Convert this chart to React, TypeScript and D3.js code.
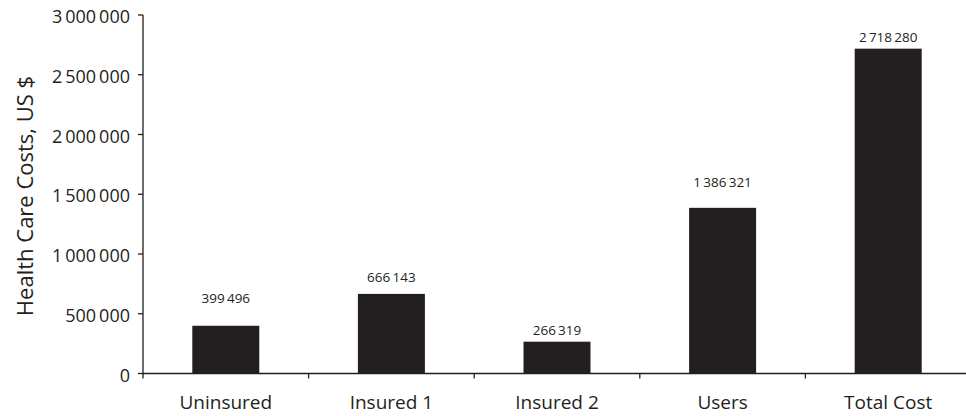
import React from "react";
import * as d3 from "d3";

const categories = ["Uninsured", "Insured 1", "Insured 2", "Users", "Total Cost"];
const costs = [399496, 666143, 266319, 1386321, 2718280];
const yTicks = [0, 500000, 1000000, 1500000, 2000000, 2500000, 3000000];

const W = 966, H = 416;
const left = 143, right = 971, top = 15, bottom = 373.5;
const FONT = "'Open Sans', 'Noto Sans', sans-serif";
const INK = "#231f20";

const fmt = (v: number) => {
  const s = String(Math.round(v));
  return s.replace(/\B(?=(\d{3})+(?!\d))/g, "\u2009");
};

export default function App() {
  const x = d3.scaleBand<string>().domain(categories).range([left, right]).paddingInner(0).paddingOuter(0);
  const y = d3.scaleLinear().domain([0, 3000000]).range([bottom, top]);
  const bw = 67;
  // gap between value label baseline and bar top (as placed in the original figure)
  const labelGap = [23, 12, 7, 21, 7];
  return (
    <svg width={W} height={H} style={{ display: "block", position: "absolute", left: 0, top: 0 }}>
      <rect width={W} height={H} fill="#fff" />
      {categories.map((c, i) => {
        const cx = (x(c) as number) + x.bandwidth() / 2;
        return (
          <g key={c}>
            <rect x={cx - bw / 2} y={y(costs[i])} width={bw} height={bottom - y(costs[i])} fill={INK} />
            <text x={cx} y={y(costs[i]) - labelGap[i]} textAnchor="middle" fontFamily={FONT} fontSize={13.5} fill={INK}>
              {fmt(costs[i])}
            </text>
            <text x={cx} y={bottom + 35.5} textAnchor="middle" fontFamily={FONT} fontSize={19} fill={INK}>
              {c}
            </text>
          </g>
        );
      })}
      {/* x axis */}
      <line x1={left} x2={right} y1={bottom} y2={bottom} stroke={INK} strokeWidth={1.3} />
      {categories.slice(1).map((c) => (
        <line key={c} x1={x(c) as number} x2={x(c) as number} y1={bottom} y2={bottom + 5} stroke={INK} strokeWidth={1.3} />
      ))}
      {/* y axis */}
      <line x1={left} x2={left} y1={top} y2={bottom + 5} stroke={INK} strokeWidth={1.3} />
      {yTicks.map((t) => (
        <g key={t}>
          <line x1={left - 5} x2={left} y1={y(t)} y2={y(t)} stroke={INK} strokeWidth={1.3} />
          <text x={left - 13} y={y(t)} dy="0.45em" textAnchor="end" fontFamily={FONT} fontSize={18} fill={INK}>
            {fmt(t)}
          </text>
        </g>
      ))}
      <text transform={`translate(33,196) rotate(-90)`} textAnchor="middle" fontFamily={FONT} fontSize={22} fill={INK}>
        Health Care Costs, US $
      </text>
    </svg>
  );
}
